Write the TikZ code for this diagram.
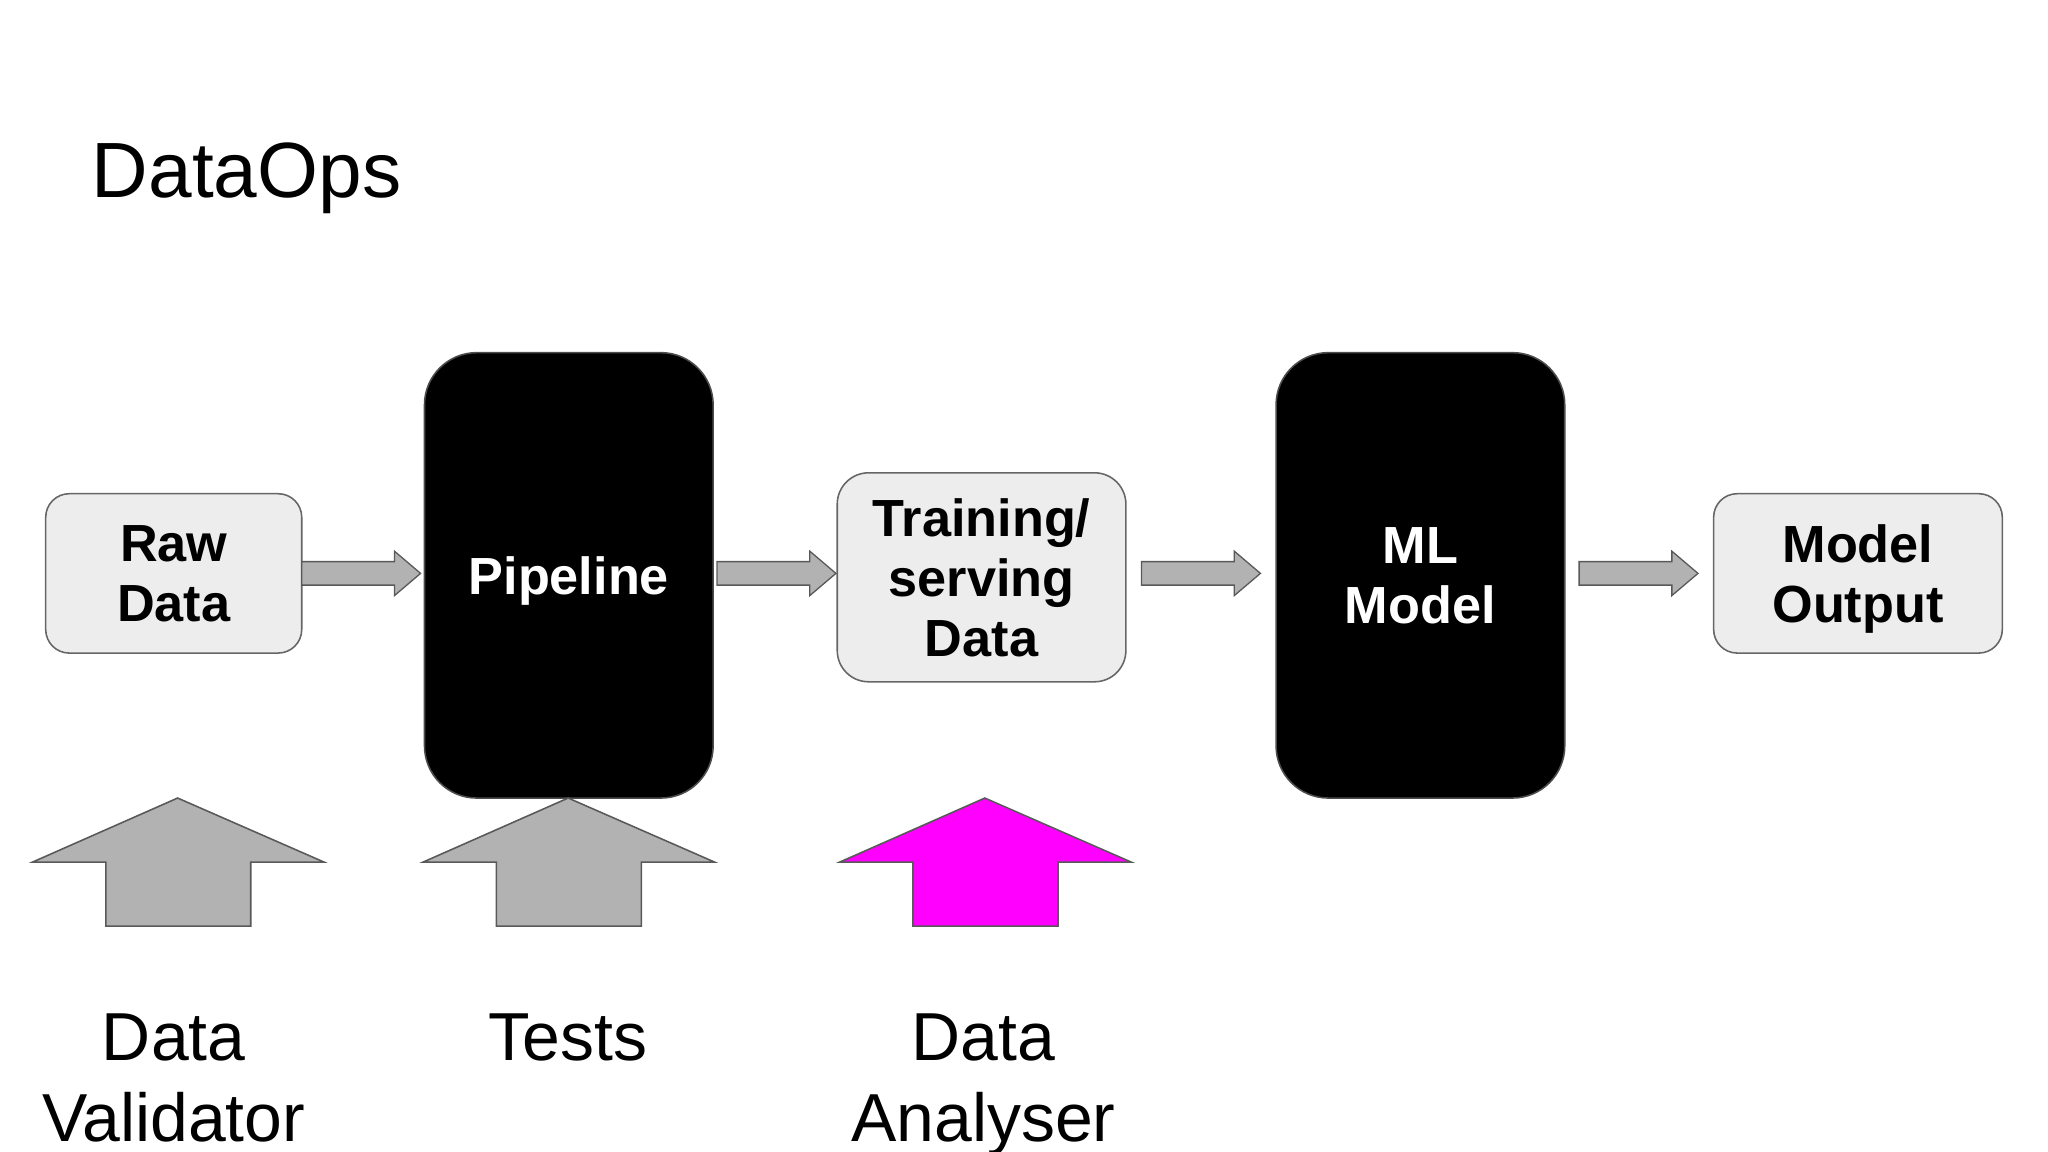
\documentclass[tikz,border=0pt]{standalone}
\usepackage{fontspec}
\setmainfont{Liberation Sans}
\definecolor{pinkish}{RGB}{255,0,255}
\begin{document}
\begin{tikzpicture}[x=0.5pt,y=-0.5pt,
  lbox/.style={draw=gray!80!black,fill=black!7,rounded corners=9pt,line width=0.6pt,font=\fontsize{20}{23}\selectfont\bfseries,align=center,inner sep=0pt,text depth=-3pt},
  dbox/.style={draw=gray!60!black,fill=black,text=white,rounded corners=20pt,line width=0.6pt,font=\fontsize{20}{23}\selectfont\bfseries,align=center,inner sep=0pt,text depth=-3pt},
  sarrow/.style={fill=black!30,draw=gray!70!black,line width=0.5pt},
  barrow/.style={draw=gray!70!black,line width=0.6pt},
  lab/.style={font=\fontsize{26}{31}\selectfont,align=center,anchor=north}]
\useasboundingbox (0,0) rectangle (1568,882);
\node[anchor=base west,font=\fontsize{30}{36}\selectfont,inner sep=0pt] (title) at (70,151) {DataOps};
\node[lbox,minimum width=196*0.5pt,minimum height=122*0.5pt] (raw) at (133,439) {Raw\\Data};
\node[dbox,minimum width=221*0.5pt,minimum height=341*0.5pt] (pipe) at (435.5,440.5) {Pipeline};
\node[lbox,minimum width=221*0.5pt,minimum height=160*0.5pt,rounded corners=12pt] (train) at (751.5,442) {Training/\\serving\\Data};
\node[dbox,minimum width=221*0.5pt,minimum height=341*0.5pt] (ml) at (1087.5,440.5) {ML\\Model};
\node[lbox,minimum width=221*0.5pt,minimum height=122*0.5pt] (out) at (1422.5,439) {Model\\Output};
% small arrows
\foreach \a/\b in {231/322,549/640,874/965,1209/1300}{
  \draw[sarrow] (\a,430) -- (\b-20,430) -- (\b-20,422) -- (\b,439) -- (\b-20,456) -- (\b-20,448) -- (\a,448) -- cycle;
}
% big up arrows
\foreach \c/\col in {136/black!30,435/black!30,754/pinkish}{
  \draw[barrow,fill=\col] (\c,611) -- (\c+112,660) -- (\c+56,660) -- (\c+56,709) -- (\c-55,709) -- (\c-55,660) -- (\c-111,660) -- cycle;
}
\node[lab] (dv) at (133,769) {Data\\Validator};
\node[lab] (tests) at (435,769) {Tests};
\node[lab] (da) at (753,769) {Data\\Analyser};
\end{tikzpicture}
\end{document}
